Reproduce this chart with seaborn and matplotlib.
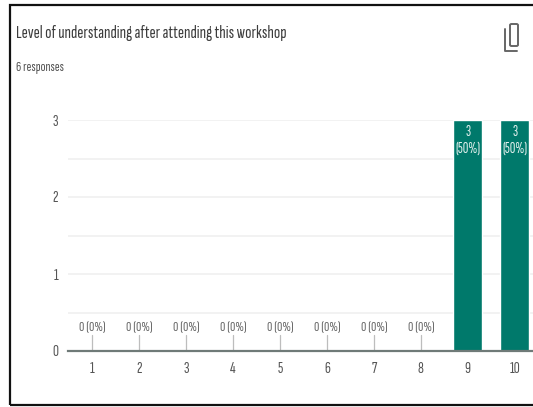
import matplotlib
matplotlib.use("Agg")
import matplotlib.pyplot as plt
from matplotlib.patches import FancyBboxPatch, Rectangle
from matplotlib.lines import Line2D
import seaborn as sns
import pandas as pd

title = "Level of understanding after attending this workshop"
subtitle = "6 responses"
categories = ["1", "2", "3", "4", "5", "6", "7", "8", "9", "10"]
counts = [0, 0, 0, 0, 0, 0, 0, 0, 3, 3]
percents = [0, 0, 0, 0, 0, 0, 0, 0, 50, 50]
y_ticks = [0, 1, 2, 3]
y_grid = [0.5, 1, 1.5, 2, 2.5, 3]

W, H = 533, 407
FONTS = ["Sofia Sans Extra Condensed", "Pathway Gothic One", "Roboto Condensed", "Roboto", "DejaVu Sans"]
sns.set_style("white")
plt.rcParams["font.family"] = FONTS

fig = plt.figure(figsize=(W / 100, H / 100), dpi=100, facecolor="white")
ax = fig.add_axes([68 / W, 1 - 351 / H, (W - 68) / W, (351 - 120) / H])

df = pd.DataFrame({"score": categories, "count": counts})
sns.barplot(data=df, x="score", y="count", order=categories, color="#00796b",
            saturation=1, width=0.62, ax=ax, zorder=3)

ax.set_xlim(-0.52, 9.39)
ax.set_ylim(0, 3)
ax.set_xlabel("")
ax.set_ylabel("")
for s in ["top", "right", "left"]:
    ax.spines[s].set_visible(False)
ax.spines["bottom"].set_color("#6f7a78")
ax.spines["bottom"].set_linewidth(1.6)
ax.spines["bottom"].set_zorder(5)
ax.set_yticks(y_ticks)
ax.tick_params(axis="both", length=0, labelsize=12, labelcolor="#555555")
ax.tick_params(axis="x", pad=8)
ax.tick_params(axis="y", pad=7)
for g in y_grid:
    ax.axhline(g, color="#efefef", lw=1.1, zorder=1)

for i, (c, p) in enumerate(zip(counts, percents)):
    if c == 0:
        ax.plot([i, i], [0, 0.21], color="#bdbdbd", lw=0.9, zorder=2)
        ax.text(i, 0.21, f"{c} ({p}%)", ha="center", va="bottom",
                fontsize=10.5, color="#666666")
    else:
        ax.text(i, c - 0.06, f"{c}\n({p}%)", ha="center", va="top",
                fontsize=11, color="#e4f1ee", linespacing=1.25, zorder=6)

fig.text(16 / W, 1 - 33 / H, title, fontsize=13.4, color="#3c3c3c", va="center", ha="left")
fig.text(16 / W, 1 - 68 / H, subtitle, fontsize=10.5, color="#555555", va="center", ha="left")

# card frame
fig.add_artist(Rectangle((10 / W, 1 - 405 / H), 530 / W, 400.5 / H, transform=fig.transFigure,
                         fill=False, edgecolor="#111111", lw=1.6))

# copy icon
fig.add_artist(FancyBboxPatch((510 / W, 1 - 46 / H), 8 / W, 22 / H,
                              boxstyle="round,pad=0,rounding_size=0.003",
                              transform=fig.transFigure, fill=False,
                              edgecolor="#666666", lw=1.4))
fig.add_artist(Line2D([505 / W, 505 / W, 517 / W], [1 - 29 / H, 1 - 51 / H, 1 - 51 / H],
                      transform=fig.transFigure, color="#666666", lw=1.4))

fig.savefig("out.png", dpi=100)
